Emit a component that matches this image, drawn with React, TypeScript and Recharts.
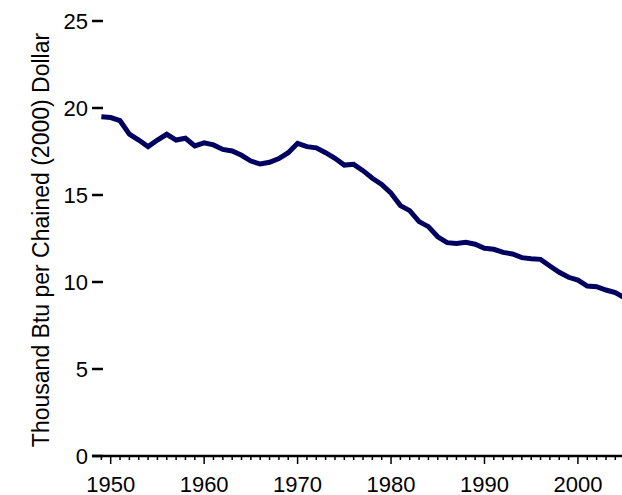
import { Line, LineChart, XAxis, YAxis } from 'recharts'

const years = [
  1949, 1950, 1951, 1952, 1953, 1954, 1955, 1956, 1957, 1958, 1959,
  1960, 1961, 1962, 1963, 1964, 1965, 1966, 1967, 1968, 1969,
  1970, 1971, 1972, 1973, 1974, 1975, 1976, 1977, 1978, 1979,
  1980, 1981, 1982, 1983, 1984, 1985, 1986, 1987, 1988, 1989,
  1990, 1991, 1992, 1993, 1994, 1995, 1996, 1997, 1998, 1999,
  2000, 2001, 2002, 2003, 2004, 2005,
]

const intensity = [
  19.5, 19.45, 19.27, 18.5, 18.16, 17.78, 18.16, 18.49, 18.16, 18.26, 17.82,
  18.0, 17.88, 17.62, 17.53, 17.28, 16.95, 16.78, 16.88, 17.09, 17.43,
  17.97, 17.78, 17.71, 17.43, 17.11, 16.72, 16.76, 16.4, 15.96, 15.61,
  15.1, 14.39, 14.1, 13.47, 13.18, 12.6, 12.26, 12.22, 12.28, 12.17,
  11.94, 11.88, 11.7, 11.61, 11.4, 11.34, 11.3, 10.92, 10.56, 10.27,
  10.11, 9.77, 9.73, 9.54, 9.39, 9.08,
]

const yTicks = [0, 5, 10, 15, 20, 25]
const decadeLabels = [1950, 1960, 1970, 1980, 1990, 2000]

const data = years.map((year, i) => ({ year, value: intensity[i] }))

const FONT = '"Liberation Sans", Arial, sans-serif'

function YTick({ x, y, payload }: any) {
  return (
    <g>
      <line x1={x} y1={y} x2={x + 11} y2={y} stroke="#000" strokeWidth={2.5} />
      <text x={x - 4} y={y} textAnchor="end" dominantBaseline="central" fontSize={22} fontFamily={FONT} fill="#000">
        {payload.value}
      </text>
    </g>
  )
}

function XTick({ x, y, payload }: any) {
  const major = decadeLabels.includes(payload.value)
  return (
    <g>
      <line x1={x} y1={y} x2={x} y2={y + (major ? 8 : 4)} stroke="#000" strokeWidth={1.5} />
      {major && (
        <text x={x} y={y + 36} textAnchor="middle" fontSize={22} fontFamily={FONT} fill="#000">
          {payload.value}
        </text>
      )}
    </g>
  )
}

const yLabel = () => (
  <text
    x={41}
    y={240}
    transform="rotate(-90 41 240)"
    textAnchor="middle"
    dominantBaseline="central"
    fontSize={23}
    fontFamily={FONT}
    fill="#000"
  >
    Thousand Btu per Chained (2000) Dollar
  </text>
)

export default function App() {
  return (
    <div style={{ position: 'fixed', left: 0, top: 0, width: 622, height: 495, overflow: 'hidden', background: '#fff' }}>
      <LineChart width={640} height={495} data={data} margin={{ top: 21, right: 6, left: 0, bottom: 0 }}>
        <XAxis
          dataKey="year"
          type="number"
          domain={[1948, 2006]}
          ticks={years}
          interval={0}
          height={39}
          tickSize={0}
          tickMargin={0}
          tickLine={false}
          axisLine={{ stroke: '#000', strokeWidth: 2.5 }}
          tick={<XTick />}
        />
        <YAxis
          type="number"
          domain={[0, 25]}
          ticks={yTicks}
          interval={0}
          width={92}
          tickSize={0}
          tickMargin={0}
          tickLine={false}
          axisLine={false}
          tick={<YTick />}
          label={{ content: yLabel }}
        />
        <Line
          type="linear"
          dataKey="value"
          stroke="#000060"
          strokeWidth={5}
          dot={false}
          isAnimationActive={false}
        />
      </LineChart>
    </div>
  )
}
